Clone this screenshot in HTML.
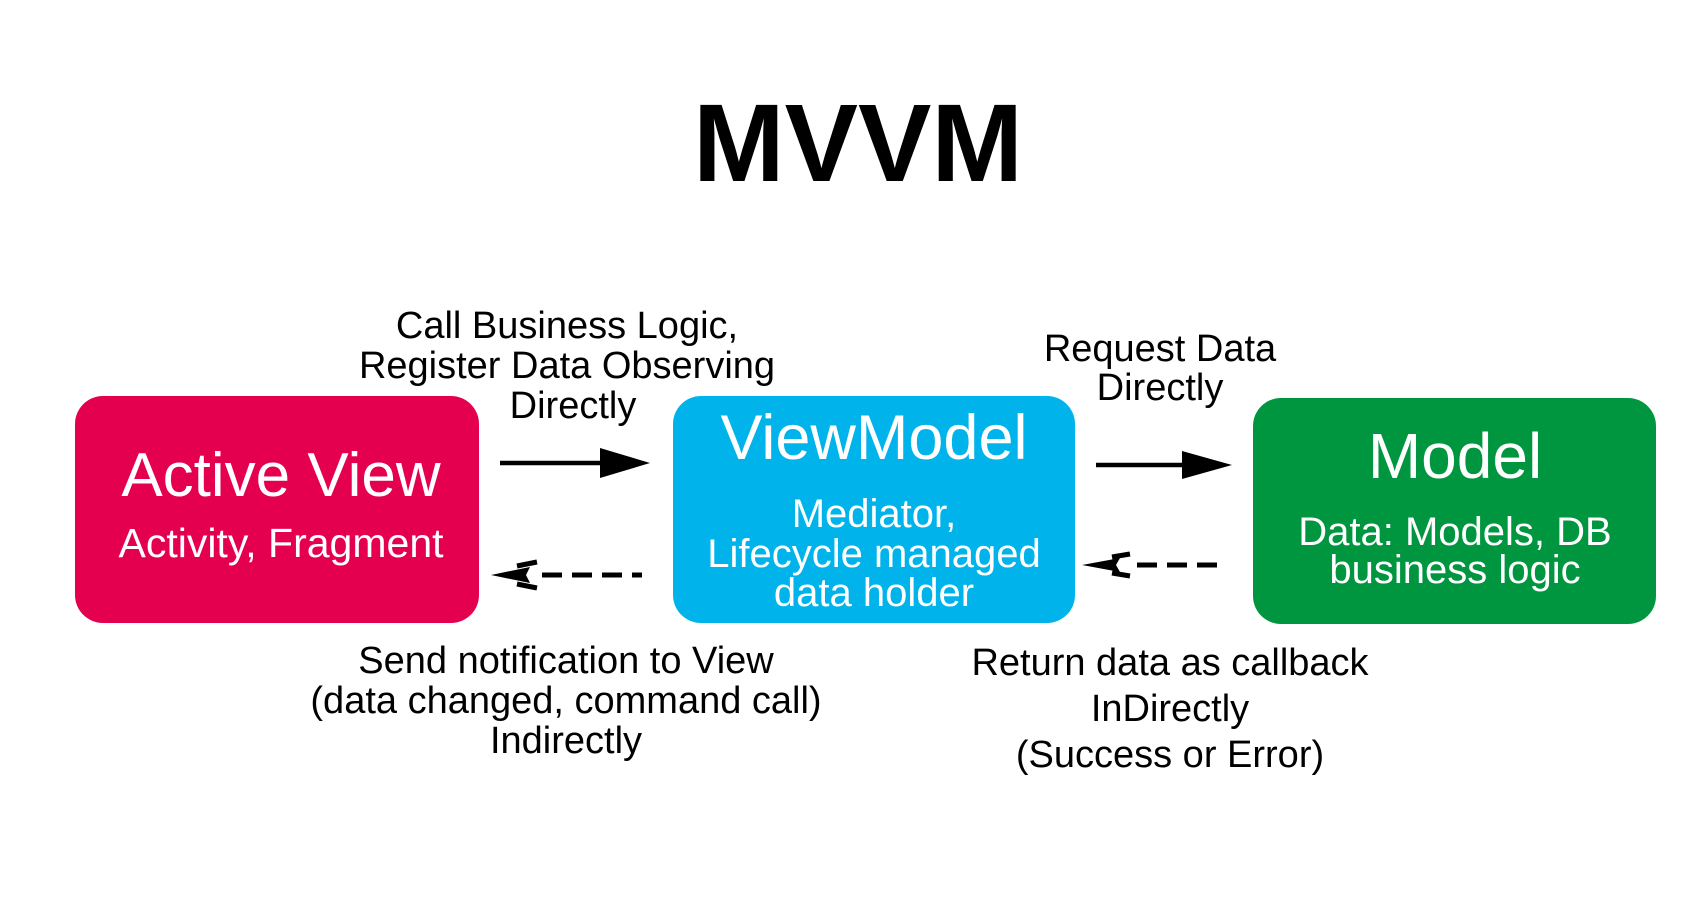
<!DOCTYPE html>
<html><head><meta charset="utf-8"><style>
html,body{margin:0;padding:0;background:#fff;}
svg{display:block;}
text{font-family:"Liberation Sans","NanumGothic",sans-serif;}
</style></head><body>
<svg width="1701" height="898" viewBox="0 0 1701 898" xmlns="http://www.w3.org/2000/svg">
<rect width="1701" height="898" fill="#fff"/>
<text x="858" y="181" font-size="110" font-weight="bold" text-anchor="middle" fill="#000">MVVM</text>

<rect x="75" y="396" width="404" height="227" rx="28" fill="#e4004f"/>
<rect x="673" y="396" width="402" height="227" rx="28" fill="#00b4eb"/>
<rect x="1253" y="398" width="403" height="226" rx="28" fill="#00963f"/>

<g fill="#fff" text-anchor="middle">
<text x="281" y="496" font-size="62">Active View</text>
<text x="281" y="557" font-size="41">Activity, Fragment</text>
<text x="874" y="459" font-size="63">ViewModel</text>
<text x="874" y="527" font-size="40">Mediator,</text>
<text x="874" y="567" font-size="40">Lifecycle managed</text>
<text x="874" y="606" font-size="40">data holder</text>
<text x="1455" y="478" font-size="64">Model</text>
<text x="1455" y="545" font-size="40">Data: Models, DB</text>
<text x="1455" y="583" font-size="40">business logic</text>
</g>

<g fill="#000" text-anchor="middle" font-size="38">
<text x="567" y="338">Call Business Logic,</text>
<text x="567" y="378">Register Data Observing</text>
<text x="573" y="418">Directly</text>
<text x="1160" y="361">Request Data</text>
<text x="1160" y="400">Directly</text>
<text x="566" y="673">Send notification to View</text>
<text x="566" y="713">(data changed, command call)</text>
<text x="566" y="753">Indirectly</text>
<text x="1170" y="675">Return data as callback</text>
<text x="1170" y="721">InDirectly</text>
<text x="1170" y="767">(Success or Error)</text>
</g>

<line x1="500" y1="463" x2="610" y2="463" stroke="#000" stroke-width="4.5"/>
<polygon points="600,448 650,463 600,478" fill="#000"/>
<line x1="1096" y1="465" x2="1190" y2="465" stroke="#000" stroke-width="4.5"/>
<polygon points="1182,451 1232,465 1182,479" fill="#000"/>

<line x1="542" y1="575" x2="642" y2="575" stroke="#000" stroke-width="5" stroke-dasharray="20,10"/>
<polygon points="491,575 530,567 526,575 530,583" fill="#000"/>
<line x1="517" y1="566" x2="537" y2="562" stroke="#000" stroke-width="5"/>
<line x1="517" y1="584" x2="537" y2="588" stroke="#000" stroke-width="5"/>
<line x1="1137" y1="565" x2="1219" y2="565" stroke="#000" stroke-width="5" stroke-dasharray="20,10"/>
<polygon points="1082,565 1120,558 1116,565 1120,572" fill="#000"/>
<line x1="1112" y1="557" x2="1130" y2="554" stroke="#000" stroke-width="5"/>
<line x1="1112" y1="573" x2="1130" y2="576" stroke="#000" stroke-width="5"/>
</svg>
</body></html>
